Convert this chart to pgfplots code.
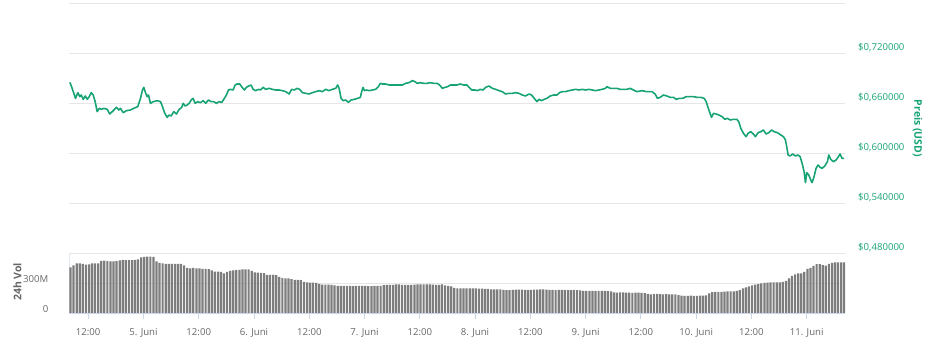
\documentclass[border=0pt]{standalone}
\usepackage{fontspec}
\setmainfont{Open Sans}
\usepackage{pgfplots}
\pgfplotsset{compat=1.18}
\definecolor{pricegreen}{RGB}{24,163,119}
\definecolor{gridc}{RGB}{230,230,230}
\definecolor{axisc}{RGB}{204,214,235}
\definecolor{barc}{RGB}{125,125,125}
\definecolor{txt}{RGB}{102,102,102}
\begin{document}
\begin{tikzpicture}[x=1pt,y=1pt]
\useasboundingbox (0,0) rectangle (940,353);
% price pane
\begin{axis}[at={(69pt,100pt)}, anchor=south west, scale only axis,
  width=776pt, height=250pt,
  xmin=4.326, xmax=11.347, ymin=0.48, ymax=0.78,
  axis line style={draw=none}, major tick length=0pt,
  xtick=\empty,
  ytick={0.48,0.54,0.60,0.66,0.72,0.78},
  yticklabels={{\$0,480000},{\$0,540000},{\$0,600000},{\$0,660000},{\$0,720000},{}},
  yticklabel pos=right,
  yticklabel style={anchor=west, inner sep=0pt, xshift=13pt, yshift=5.5pt, text=pricegreen, font=\fontsize{9.6}{11}\selectfont},
  ymajorgrids, major grid style={gridc, line width=0.8pt},
  /pgf/number format/assume math mode=true]
\addplot[pricegreen, line width=1.6pt, line join=round] coordinates {
(4.334,0.6848)(4.349,0.6796)(4.370,0.6716)(4.385,0.6656)(4.406,0.6724)(4.424,0.6676)(4.437,0.6696)(4.455,0.6644)(4.473,0.6684)(4.491,0.6644)(4.509,0.6676)(4.527,0.6724)(4.545,0.6696)(4.563,0.6616)(4.581,0.6496)(4.599,0.6536)(4.618,0.6524)(4.641,0.6536)(4.672,0.6524)(4.695,0.6468)(4.717,0.6496)(4.738,0.6524)(4.756,0.6548)(4.777,0.6516)(4.792,0.6536)(4.816,0.6484)(4.846,0.6508)(4.882,0.6516)(4.912,0.6536)(4.948,0.6556)(4.973,0.6656)(4.991,0.6756)(5.003,0.6788)(5.018,0.6724)(5.033,0.6676)(5.045,0.6696)(5.063,0.6596)(5.088,0.6616)(5.124,0.6628)(5.154,0.6616)(5.172,0.6556)(5.190,0.6484)(5.214,0.6428)(5.232,0.6456)(5.250,0.6444)(5.274,0.6496)(5.298,0.6468)(5.323,0.6524)(5.346,0.6548)(5.359,0.6596)(5.377,0.6564)(5.395,0.6576)(5.413,0.6596)(5.431,0.6636)(5.449,0.6656)(5.467,0.6596)(5.491,0.6616)(5.515,0.6604)(5.540,0.6628)(5.563,0.6596)(5.588,0.6636)(5.612,0.6616)(5.636,0.6616)(5.660,0.6596)(5.684,0.6616)(5.708,0.6608)(5.732,0.6656)(5.750,0.6696)(5.769,0.6756)(5.787,0.6764)(5.811,0.6756)(5.829,0.6816)(5.847,0.6828)(5.871,0.6828)(5.892,0.6788)(5.913,0.6756)(5.931,0.6788)(5.952,0.6804)(5.974,0.6816)(5.992,0.6764)(6.013,0.6748)(6.043,0.6764)(6.058,0.6756)(6.082,0.6788)(6.106,0.6764)(6.137,0.6776)(6.166,0.6764)(6.196,0.6756)(6.227,0.6756)(6.257,0.6748)(6.287,0.6736)(6.317,0.6708)(6.341,0.6764)(6.365,0.6756)(6.390,0.6776)(6.413,0.6764)(6.438,0.6724)(6.468,0.6716)(6.498,0.6708)(6.528,0.6724)(6.558,0.6736)(6.589,0.6748)(6.619,0.6736)(6.648,0.6764)(6.679,0.6748)(6.709,0.6764)(6.739,0.6776)(6.757,0.6816)(6.770,0.6776)(6.788,0.6656)(6.806,0.6628)(6.829,0.6636)(6.854,0.6608)(6.878,0.6636)(6.908,0.6644)(6.938,0.6656)(6.962,0.6668)(6.974,0.6736)(6.987,0.6788)(6.998,0.6748)(7.016,0.6756)(7.041,0.6748)(7.071,0.6756)(7.100,0.6764)(7.125,0.6796)(7.143,0.6836)(7.161,0.6828)(7.191,0.6828)(7.222,0.6816)(7.251,0.6816)(7.281,0.6816)(7.312,0.6816)(7.342,0.6816)(7.372,0.6836)(7.402,0.6844)(7.432,0.6868)(7.457,0.6856)(7.475,0.6836)(7.505,0.6844)(7.534,0.6836)(7.565,0.6836)(7.595,0.6844)(7.625,0.6836)(7.656,0.6836)(7.679,0.6816)(7.704,0.6776)(7.728,0.6788)(7.752,0.6796)(7.776,0.6816)(7.806,0.6816)(7.836,0.6816)(7.866,0.6828)(7.896,0.6816)(7.927,0.6816)(7.945,0.6788)(7.969,0.6756)(7.999,0.6756)(8.023,0.6748)(8.047,0.6764)(8.072,0.6756)(8.095,0.6788)(8.126,0.6804)(8.156,0.6776)(8.186,0.6764)(8.216,0.6748)(8.246,0.6736)(8.276,0.6708)(8.307,0.6716)(8.337,0.6716)(8.366,0.6724)(8.397,0.6716)(8.427,0.6696)(8.457,0.6684)(8.488,0.6708)(8.511,0.6696)(8.535,0.6656)(8.560,0.6616)(8.578,0.6644)(8.601,0.6628)(8.626,0.6644)(8.650,0.6656)(8.680,0.6684)(8.710,0.6696)(8.741,0.6696)(8.764,0.6724)(8.789,0.6736)(8.818,0.6736)(8.849,0.6748)(8.879,0.6756)(8.909,0.6764)(8.940,0.6756)(8.969,0.6764)(8.999,0.6756)(9.030,0.6764)(9.060,0.6756)(9.090,0.6748)(9.120,0.6756)(9.150,0.6764)(9.180,0.6776)(9.193,0.6796)(9.223,0.6776)(9.253,0.6776)(9.283,0.6776)(9.313,0.6764)(9.343,0.6764)(9.374,0.6764)(9.403,0.6776)(9.433,0.6756)(9.464,0.6736)(9.509,0.6748)(9.554,0.6736)(9.600,0.6736)(9.629,0.6708)(9.650,0.6656)(9.675,0.6668)(9.705,0.6696)(9.735,0.6684)(9.765,0.6668)(9.795,0.6668)(9.819,0.6644)(9.849,0.6656)(9.880,0.6656)(9.910,0.6676)(9.940,0.6676)(9.976,0.6676)(10.007,0.6668)(10.043,0.6668)(10.073,0.6656)(10.091,0.6616)(10.115,0.6516)(10.139,0.6428)(10.157,0.6476)(10.181,0.6468)(10.206,0.6456)(10.236,0.6436)(10.260,0.6404)(10.283,0.6416)(10.308,0.6396)(10.338,0.6404)(10.368,0.6404)(10.386,0.6376)(10.404,0.6296)(10.428,0.6236)(10.452,0.6196)(10.470,0.6236)(10.495,0.6256)(10.518,0.6228)(10.536,0.6196)(10.561,0.6244)(10.585,0.6256)(10.609,0.6276)(10.633,0.6228)(10.658,0.6244)(10.681,0.6276)(10.706,0.6256)(10.735,0.6244)(10.766,0.6216)(10.790,0.6196)(10.808,0.6156)(10.820,0.6076)(10.832,0.5976)(10.850,0.5964)(10.875,0.5988)(10.898,0.5964)(10.922,0.5976)(10.941,0.5956)(10.959,0.5876)(10.977,0.5776)(10.989,0.5644)(11.001,0.5764)(11.019,0.5736)(11.037,0.5676)(11.049,0.5644)(11.067,0.5716)(11.085,0.5816)(11.103,0.5856)(11.122,0.5828)(11.140,0.5816)(11.164,0.5844)(11.188,0.5896)(11.200,0.5976)(11.218,0.5924)(11.242,0.5896)(11.266,0.5916)(11.284,0.5948)(11.302,0.5988)(11.320,0.5936)(11.338,0.5936)
};
\end{axis}
% volume pane
\begin{axis}[at={(69pt,40pt)}, anchor=south west, scale only axis,
  width=776pt, height=60pt,
  xmin=-0.5, xmax=252.25, ymin=0, ymax=600,
  axis x line*=bottom, axis y line*=left,
  x axis line style={axisc, line width=0.8pt, -},
  y axis line style={axisc!60, line width=0.6pt, -},
  xtick={5.76,23.76,41.76,59.76,77.76,95.76,113.76,131.76,149.76,167.76,185.76,203.76,221.76,239.76},
  xticklabels={12:00,5. Juni,12:00,6. Juni,12:00,7. Juni,12:00,8. Juni,12:00,9. Juni,12:00,10. Juni,12:00,11. Juni},
  xtick style={axisc, line width=0.8pt}, tick align=outside, xtick pos=bottom,
  major tick length=6.5pt,
  ytick={0,300,600}, yticklabels={0,300M,{}},
  ytick style={draw=none},
  xticklabel style={anchor=base, inner sep=0pt, yshift=-16.5pt, text=txt, font=\fontsize{9.6}{11}\selectfont},
  yticklabel style={anchor=east, inner sep=0pt, xshift=-14pt, yshift=4pt, text=txt, font=\fontsize{9.6}{11}\selectfont},
  ymajorgrids, major grid style={gridc, line width=0.8pt},
  /pgf/number format/assume math mode=true]
\addplot[ybar, bar width=0.72, fill=barc, draw=none] coordinates {
(0,457)(1,475)(2,497)(3,497)(4,490)(5,483)(6,485)(7,495)(8,497)(9,497)(10,520)(11,523)(12,518)(13,515)(14,515)(15,518)(16,527)(17,530)(18,528)(19,528)(20,528)(21,530)(22,535)(23,555)(24,560)(25,563)(26,563)(27,560)(28,515)(29,500)(30,497)(31,492)(32,490)(33,490)(34,492)(35,490)(36,490)(37,475)(38,450)(39,447)(40,450)(41,447)(42,447)(43,440)(44,440)(45,438)(46,425)(47,413)(48,413)(49,410)(50,397)(51,410)(52,420)(53,425)(54,428)(55,432)(56,437)(57,437)(58,435)(59,420)(60,405)(61,403)(62,400)(63,398)(64,382)(65,380)(66,380)(67,378)(68,360)(69,348)(70,345)(71,345)(72,338)(73,330)(74,330)(75,328)(76,312)(77,305)(78,303)(79,303)(80,300)(81,290)(82,283)(83,283)(84,283)(85,282)(86,275)(87,270)(88,270)(89,272)(90,270)(91,270)(92,268)(93,270)(94,270)(95,272)(96,270)(97,268)(98,268)(99,270)(100,272)(101,270)(102,278)(103,280)(104,280)(105,282)(106,285)(107,285)(108,282)(109,280)(110,278)(111,280)(112,283)(113,285)(114,285)(115,285)(116,285)(117,285)(118,283)(119,280)(120,282)(121,285)(122,275)(123,270)(124,265)(125,250)(126,247)(127,247)(128,245)(129,245)(130,245)(131,245)(132,247)(133,243)(134,243)(135,240)(136,240)(137,235)(138,237)(139,237)(140,235)(141,232)(142,228)(143,228)(144,230)(145,233)(146,233)(147,233)(148,230)(149,230)(150,232)(151,233)(152,233)(153,235)(154,235)(155,233)(156,230)(157,230)(158,228)(159,230)(160,230)(161,230)(162,228)(163,228)(164,230)(165,228)(166,225)(167,222)(168,222)(169,222)(170,220)(171,220)(172,222)(173,222)(174,220)(175,218)(176,215)(177,205)(178,203)(179,205)(180,205)(181,203)(182,203)(183,200)(184,203)(185,203)(186,200)(187,198)(188,190)(189,187)(190,188)(191,190)(192,188)(193,187)(194,188)(195,187)(196,185)(197,185)(198,178)(199,173)(200,172)(201,172)(202,173)(203,172)(204,172)(205,173)(206,173)(207,175)(208,195)(209,208)(210,210)(211,210)(212,212)(213,213)(214,215)(215,215)(216,217)(217,220)(218,228)(219,245)(220,255)(221,265)(222,275)(223,283)(224,288)(225,295)(226,300)(227,303)(228,305)(229,305)(230,305)(231,307)(232,310)(233,320)(234,345)(235,370)(236,385)(237,395)(238,397)(239,410)(240,440)(241,450)(242,470)(243,488)(244,488)(245,478)(246,473)(247,490)(248,500)(249,505)(250,507)(251,507)(252,507)
};
\end{axis}
\node[rotate=90, text=txt, font=\bfseries\fontsize{10.5}{12}\selectfont] at (17.5,71) {24h Vol};
\node[rotate=-90, text=pricegreen, font=\bfseries\fontsize{10.5}{12}\selectfont] at (917.5,224.5) {Preis (USD)};
\end{tikzpicture}
\end{document}
